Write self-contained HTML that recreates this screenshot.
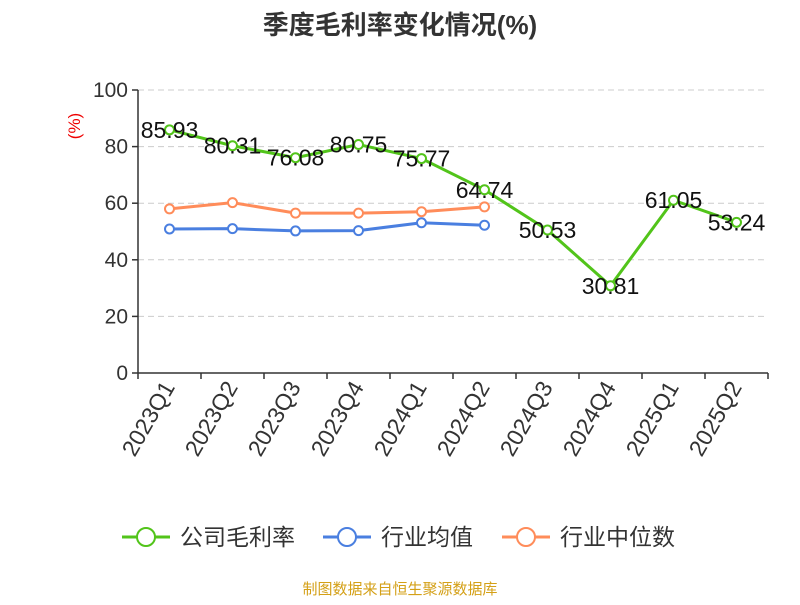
<!DOCTYPE html>
<html><head><meta charset="utf-8"><style>
body{margin:0;background:#fff;}
svg text{font-family:"Liberation Sans","Noto Sans CJK SC",sans-serif;}
</style></head><body>
<svg id="c" width="800" height="600" xmlns="http://www.w3.org/2000/svg">
<text x="400" y="34" text-anchor="middle" font-size="26" font-weight="bold" fill="#333">季度毛利率变化情况(%)</text>
<text transform="translate(80,126) rotate(-90)" text-anchor="middle" font-size="17" fill="#e00">(%)</text>
<g id="grid"></g><g id="axes"></g><g id="series"></g>
<g>
<g><line x1="122" y1="537" x2="170" y2="537" stroke="#52c41a" stroke-width="3"/><circle cx="146" cy="537" r="9" fill="#fff" stroke="#52c41a" stroke-width="2"/><text x="180" y="545" font-size="23" fill="#333">公司毛利率</text></g>
<g><line x1="323" y1="537" x2="371" y2="537" stroke="#4a7fe0" stroke-width="3"/><circle cx="347" cy="537" r="9" fill="#fff" stroke="#4a7fe0" stroke-width="2"/><text x="381" y="545" font-size="23" fill="#333">行业均值</text></g>
<g><line x1="502" y1="537" x2="550" y2="537" stroke="#ff8c5a" stroke-width="3"/><circle cx="526" cy="537" r="9" fill="#fff" stroke="#ff8c5a" stroke-width="2"/><text x="560" y="545" font-size="23" fill="#333">行业中位数</text></g>
</g>
<text x="400" y="594" text-anchor="middle" font-size="15" fill="#d4a017">制图数据来自恒生聚源数据库</text>
</svg>
<script>
const categories=["2023Q1","2023Q2","2023Q3","2023Q4","2024Q1","2024Q2","2024Q3","2024Q4","2025Q1","2025Q2"];
const grossMargin=[85.93,80.31,76.08,80.75,75.77,64.74,50.53,30.81,61.05,53.24];
const industryAvg=[50.9,51.0,50.2,50.3,53.1,52.2];
const industryMedian=[58.0,60.2,56.5,56.5,57.0,58.7];
const yTicks=[0,20,40,60,80,100];
const NS="http://www.w3.org/2000/svg";
const X0=138,X1=768,Y0=373,Y1=90;
const bw=(X1-X0)/categories.length;
const xs=i=>X0+bw*(i+0.5);
const ys=v=>Y0-(v/100)*(Y0-Y1);
function mk(p,t,a){const e=document.createElementNS(NS,t);for(const k in a)e.setAttribute(k,a[k]);p.appendChild(e);return e;}
const grid=document.getElementById('grid'),axes=document.getElementById('axes'),ser=document.getElementById('series');
yTicks.forEach(v=>{
 if(v>0){const g=mk(grid,'line',{x1:X0,x2:X1,y1:ys(v),y2:ys(v),stroke:'#ccc','stroke-dasharray':'6,4'});
 
 }
 mk(axes,'line',{x1:X0-6,x2:X0,y1:ys(v),y2:ys(v),stroke:'#333','stroke-width':1.5});
 const t=mk(axes,'text',{x:X0-10,y:ys(v)+7,'text-anchor':'end','font-size':21,fill:'#333'});t.textContent=v;
 
 
});
mk(axes,'line',{x1:X0,x2:X0,y1:Y1,y2:Y0,stroke:'#333','stroke-width':1.5});
mk(axes,'line',{x1:X0,x2:X1,y1:Y0,y2:Y0,stroke:'#333','stroke-width':1.5});
for(let i=0;i<=categories.length;i++)mk(axes,'line',{x1:X0+bw*i,x2:X0+bw*i,y1:Y0,y2:Y0+6,stroke:'#333','stroke-width':1.5});
categories.forEach((c,i)=>{
 const t=mk(axes,'text',{transform:`translate(${xs(i)+6},${Y0+14}) rotate(-60)`,'text-anchor':'end','font-size':23,fill:'#333'});t.textContent=c;
 
 
});
function series(data,color,name,labels){
 const g=mk(ser,'g',{});
 
 
 mk(g,'polyline',{points:data.map((v,i)=>xs(i)+','+ys(v)).join(' '),fill:'none',stroke:color,'stroke-width':3});
 data.forEach((v,i)=>{
  const c=mk(g,'circle',{cx:xs(i),cy:ys(v),r:4.5,fill:'#fff',stroke:color,'stroke-width':2});
  
  
  if(labels){const t=mk(g,'text',{x:xs(i),y:ys(v)+8,'text-anchor':'middle','font-size':23,fill:'#111'});t.textContent=v.toFixed(2);
  
  }
 });
}
series(industryMedian,'#ff8c5a','industry-median-line',false);
series(industryAvg,'#4a7fe0','industry-average-line',false);
series(grossMargin,'#52c41a','gross-margin-line',true);
</script>
</body></html>
